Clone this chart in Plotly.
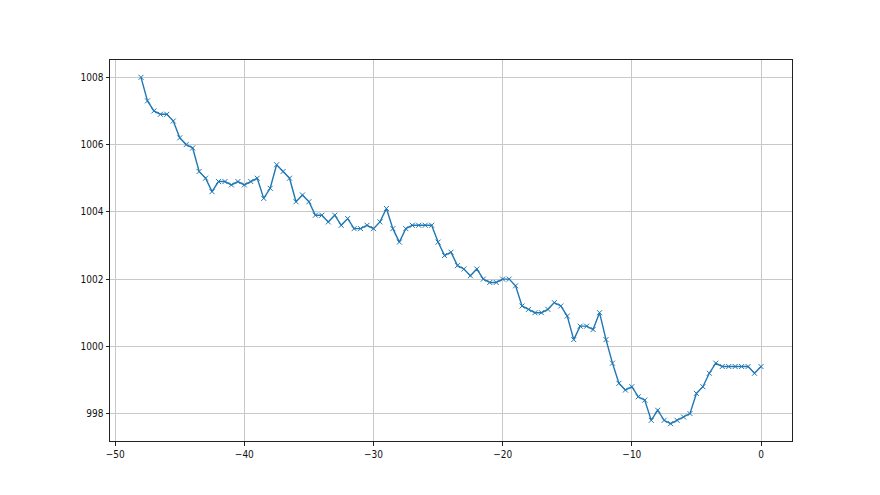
import plotly.graph_objects as go

hours = [-48, -47.5, -47, -46.5, -46, -45.5, -45, -44.5, -44, -43.5, -43, -42.5,
         -42, -41.5, -41, -40.5, -40, -39.5, -39, -38.5, -38, -37.5, -37, -36.5,
         -36, -35.5, -35, -34.5, -34, -33.5, -33, -32.5, -32, -31.5, -31, -30.5,
         -30, -29.5, -29, -28.5, -28, -27.5, -27, -26.5, -26, -25.5, -25, -24.5,
         -24, -23.5, -23, -22.5, -22, -21.5, -21, -20.5, -20, -19.5, -19, -18.5,
         -18, -17.5, -17, -16.5, -16, -15.5, -15, -14.5, -14, -13.5, -13, -12.5,
         -12, -11.5, -11, -10.5, -10, -9.5, -9, -8.5, -8, -7.5, -7, -6.5,
         -6, -5.5, -5, -4.5, -4, -3.5, -3, -2.5, -2, -1.5, -1, -0.5, 0]

pressure = [1008.0, 1007.3, 1007.0, 1006.9, 1006.9, 1006.7, 1006.2, 1006.0, 1005.9, 1005.2, 1005.0, 1004.6,
            1004.9, 1004.9, 1004.8, 1004.9, 1004.8, 1004.9, 1005.0, 1004.4, 1004.7, 1005.4, 1005.2, 1005.0,
            1004.3, 1004.5, 1004.3, 1003.9, 1003.9, 1003.7, 1003.9, 1003.6, 1003.8, 1003.5, 1003.5, 1003.6,
            1003.5, 1003.7, 1004.1, 1003.5, 1003.1, 1003.5, 1003.6, 1003.6, 1003.6, 1003.6, 1003.1, 1002.7,
            1002.8, 1002.4, 1002.3, 1002.1, 1002.3, 1002.0, 1001.9, 1001.9, 1002.0, 1002.0, 1001.8, 1001.2,
            1001.1, 1001.0, 1001.0, 1001.1, 1001.3, 1001.2, 1000.9, 1000.2, 1000.6, 1000.6, 1000.5, 1001.0,
            1000.2, 999.5, 998.9, 998.7, 998.8, 998.5, 998.4, 997.8, 998.1, 997.8, 997.7, 997.8,
            997.9, 998.0, 998.6, 998.8, 999.2, 999.5, 999.4, 999.4, 999.4, 999.4, 999.4, 999.2, 999.4]

color = "#1f77b4"

fig = go.Figure()
fig.add_trace(go.Scatter(
    x=hours, y=pressure, mode="lines+markers",
    line=dict(color=color, width=1.4),
    marker=dict(symbol="x-thin", size=5, color=color, line=dict(color=color, width=1)),
    showlegend=False,
))

axis_common = dict(
    showline=True, linecolor="#222222", linewidth=1, mirror=True,
    ticks="outside", ticklen=3.5, tickwidth=1, tickcolor="#222222",
    showgrid=True, gridcolor="#c8c8c8", gridwidth=1,
    zeroline=False,
    tickfont=dict(family="Liberation Sans Narrow, DejaVu Sans Condensed, Liberation Sans", size=10, color="#111111"),
)

fig.update_xaxes(range=[-50.4, 2.4], tick0=-50, dtick=10, **axis_common)
fig.update_yaxes(range=[997.185, 1008.515], tick0=998, dtick=2, **axis_common)

fig.update_layout(
    width=880, height=495,
    margin=dict(l=102, r=96, t=52, b=62),
    paper_bgcolor="white", plot_bgcolor="white",
)

fig.write_html("out.html")
